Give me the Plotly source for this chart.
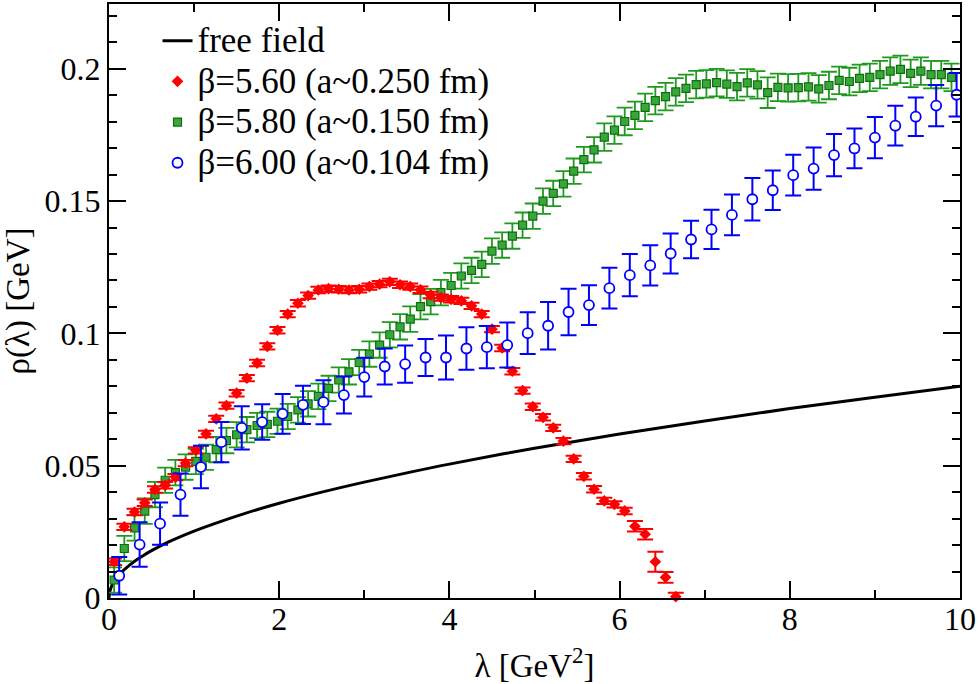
import plotly.graph_objects as go

# ---------------- data ----------------
free_x = [0, 0.01, 0.03, 0.06, 0.1, 0.15, 0.2, 0.3, 0.4, 0.5, 0.7, 1.0, 1.3, 1.6,
          2.0, 2.5, 3.0, 3.5, 4.0, 5.0, 6.0, 7.0, 8.0, 9.0, 10.0]
free_y = [0, 0.0025, 0.0044, 0.0062, 0.0080, 0.0098, 0.0113, 0.0139, 0.0160, 0.0179,
          0.0212, 0.0253, 0.0288, 0.0320, 0.0358, 0.0400, 0.0438, 0.0473, 0.0506,
          0.0566, 0.0620, 0.0669, 0.0716, 0.0759, 0.0800]

red_x = [0.06, 0.18, 0.30, 0.42, 0.54, 0.66, 0.78, 0.90, 1.02, 1.14, 1.26, 1.38, 1.50, 1.62,
         1.74, 1.86, 1.98, 2.10, 2.22, 2.34, 2.46, 2.58, 2.70, 2.82, 2.94, 3.06, 3.18, 3.30,
         3.42, 3.54, 3.66, 3.78, 3.90, 4.02, 4.14, 4.26, 4.38, 4.50, 4.62, 4.74, 4.86, 4.98,
         5.10, 5.22, 5.34, 5.46, 5.58, 5.70, 5.82, 5.94, 6.06, 6.18, 6.30, 6.42, 6.54, 6.66]
red_y = [0.0137, 0.0269, 0.0325, 0.0360, 0.0410, 0.0426, 0.0457, 0.0510, 0.0558, 0.0620,
         0.0677, 0.0727, 0.0774, 0.0831, 0.0888, 0.0951, 0.1012, 0.1073, 0.1114, 0.1143,
         0.1164, 0.1169, 0.1167, 0.1164, 0.1167, 0.1177, 0.1186, 0.1195, 0.1184, 0.1177,
         0.1165, 0.1145, 0.1135, 0.1129, 0.1123, 0.1104, 0.1073, 0.1016, 0.0945, 0.0857,
         0.0784, 0.0723, 0.0683, 0.0643, 0.0593, 0.0526, 0.0460, 0.0411, 0.0367, 0.0354,
         0.0329, 0.0271, 0.0241, 0.0137, 0.0078, 0.0005]
red_err = [0.0012] * 51 + [0.0020, 0.0020, 0.0038, 0.0020, 0.0015]

green_x = [0.06, 0.18, 0.30, 0.42, 0.54, 0.66, 0.78, 0.90, 1.02, 1.14, 1.26, 1.38, 1.50, 1.62,
           1.74, 1.86, 1.98, 2.10, 2.22, 2.34, 2.46, 2.58, 2.70, 2.82, 2.94, 3.06, 3.18, 3.30,
           3.42, 3.54, 3.66, 3.78, 3.90, 4.02, 4.14, 4.26, 4.38, 4.50, 4.62, 4.74, 4.86, 4.98,
           5.10, 5.22, 5.34, 5.46, 5.58, 5.70, 5.82, 5.94, 6.06, 6.18, 6.30, 6.42, 6.54, 6.66,
           6.78, 6.90, 7.02, 7.14, 7.26, 7.38, 7.50, 7.62, 7.74, 7.86, 7.98, 8.10, 8.22, 8.34,
           8.46, 8.58, 8.70, 8.82, 8.94, 9.06, 9.18, 9.30, 9.42, 9.54, 9.66, 9.78, 9.90]
green_y = [0.0068, 0.0187, 0.0265, 0.0328, 0.0391, 0.0445, 0.0474, 0.0495, 0.0516, 0.0532,
           0.0561, 0.0595, 0.0617, 0.0636, 0.0652, 0.0656, 0.0668, 0.0686, 0.0711, 0.0734,
           0.0762, 0.0792, 0.0824, 0.0855, 0.0890, 0.0922, 0.0956, 0.0995, 0.1025, 0.1054,
           0.1101, 0.1120, 0.1154, 0.1181, 0.1217, 0.1238, 0.1261, 0.1311, 0.1334, 0.1368,
           0.1409, 0.1443, 0.1500, 0.1529, 0.1565, 0.1613, 0.1657, 0.1694, 0.1742, 0.1768,
           0.1801, 0.1824, 0.1854, 0.1880, 0.1895, 0.1913, 0.1926, 0.1940, 0.1943, 0.1948,
           0.1942, 0.1933, 0.1947, 0.1939, 0.1910, 0.1930, 0.1928, 0.1929, 0.1932, 0.1924,
           0.1937, 0.1956, 0.1952, 0.1964, 0.1968, 0.1978, 0.1991, 0.1998, 0.1983, 0.1991,
           0.1978, 0.1978, 0.1968]
green_err = [0.0048] * 48 + [0.0052] * 16 + [0.0058] + [0.0052] * 18

blue_x = [0.12, 0.36, 0.60, 0.84, 1.08, 1.32, 1.56, 1.80, 2.04, 2.28, 2.52, 2.76, 3.00, 3.24,
          3.48, 3.72, 3.96, 4.20, 4.44, 4.68, 4.92, 5.16, 5.40, 5.64, 5.88, 6.12, 6.36, 6.60,
          6.84, 7.08, 7.32, 7.56, 7.80, 8.04, 8.28, 8.52, 8.76, 9.00, 9.24, 9.48, 9.72, 9.96]
blue_y = [0.0084, 0.0202, 0.0281, 0.0391, 0.0495, 0.0589, 0.0643, 0.0665, 0.0696, 0.0730,
          0.0740, 0.0767, 0.0835, 0.0875, 0.0884, 0.0909, 0.0909, 0.0943, 0.0948, 0.0956,
          0.1001, 0.1029, 0.1081, 0.1107, 0.1171, 0.1220, 0.1257, 0.1302, 0.1355, 0.1393,
          0.1448, 0.1507, 0.1541, 0.1598, 0.1623, 0.1674, 0.1699, 0.1740, 0.1785, 0.1819,
          0.1861, 0.1902]
blue_err = [0.0071, 0.0084, 0.0080, 0.0080, 0.0080, 0.0076, 0.0082, 0.0067, 0.0075, 0.0072,
            0.0083, 0.0070, 0.0073, 0.0068, 0.0070, 0.0070, 0.0083, 0.0080, 0.0080, 0.0085,
            0.0079, 0.0090, 0.0088, 0.0075, 0.0077, 0.0080, 0.0076, 0.0076, 0.0071, 0.0074,
            0.0077, 0.0080, 0.0075, 0.0077, 0.0080, 0.0080, 0.0075, 0.0078, 0.0075, 0.0073,
            0.0078, 0.0082]

names = ["free field", "β=5.60 (a~0.250 fm)", "β=5.80 (a~0.150 fm)", "β=6.00 (a~0.104 fm)"]

FONT = "Liberation Serif, Times New Roman, serif"


def leg(s):
    return "<span style='font-size:35px'>" + s + "</span>"


fig = go.Figure()
fig.add_trace(go.Scatter(x=free_x, y=free_y, mode="lines", name=leg(names[0]), legendrank=1,
                         line=dict(color="black", width=3, shape="spline")))
fig.add_trace(go.Scatter(x=green_x, y=green_y, mode="markers", name=leg(names[2]), legendrank=3,
                         marker=dict(symbol="square", size=8, color="#3aa53a",
                                     line=dict(color="#0b700b", width=1.2)),
                         error_y=dict(type="data", array=green_err, color="#1f9a1f",
                                      thickness=1.8, width=8)))
fig.add_trace(go.Scatter(x=red_x, y=red_y, mode="markers", name=leg(names[1]), legendrank=2,
                         cliponaxis=False,
                         marker=dict(symbol="diamond", size=9, color="#ff0000",
                                     line=dict(width=0)),
                         error_y=dict(type="data", array=red_err, color="#ff0000",
                                      thickness=2, width=8)))
fig.add_trace(go.Scatter(x=blue_x, y=blue_y, mode="markers", name=leg(names[3]), legendrank=4,
                         marker=dict(symbol="circle", size=10, color="white",
                                     line=dict(color="#0000ff", width=1.8)),
                         error_y=dict(type="data", array=blue_err, color="#0000ff",
                                      thickness=2, width=8)))

axis_common = dict(showgrid=False, zeroline=False, showline=True, linecolor="black",
                   linewidth=2, mirror="allticks", ticks="inside", tickcolor="black",
                   tickwidth=2, ticklen=17, tickfont=dict(family=FONT, size=32, color="black"))

fig.update_xaxes(range=[0, 10], dtick=2, tick0=0, ticklabelstandoff=-8,
                 minor=dict(dtick=1, ticks="inside", ticklen=8, tickwidth=2, tickcolor="black"),
                 title=dict(text="λ [GeV<sup>2</sup>]", font=dict(family=FONT, size=33, color="black"),
                            standoff=18),
                 **axis_common)
fig.update_yaxes(range=[0, 0.2245], dtick=0.05, tick0=0, ticklabelstandoff=0,
                 minor=dict(dtick=0.01, ticks="inside", ticklen=8, tickwidth=2, tickcolor="black"),
                 title=dict(text="ρ(λ) [GeV]", font=dict(family=FONT, size=33, color="black"),
                            standoff=10),
                 **axis_common)

fig.update_layout(
    width=978, height=684,
    margin=dict(l=109, r=18, t=2, b=86),
    paper_bgcolor="white", plot_bgcolor="white",
    showlegend=True,
    legend=dict(x=0.057, y=0.981, xanchor="left", yanchor="top",
                bgcolor="rgba(0,0,0,0)", font=dict(family=FONT, size=29, color="black"),
                itemwidth=30, tracegroupgap=0),
)

fig.write_html("out.html", config={"displayModeBar": False},
               post_script="document.body.style.margin='0';")
